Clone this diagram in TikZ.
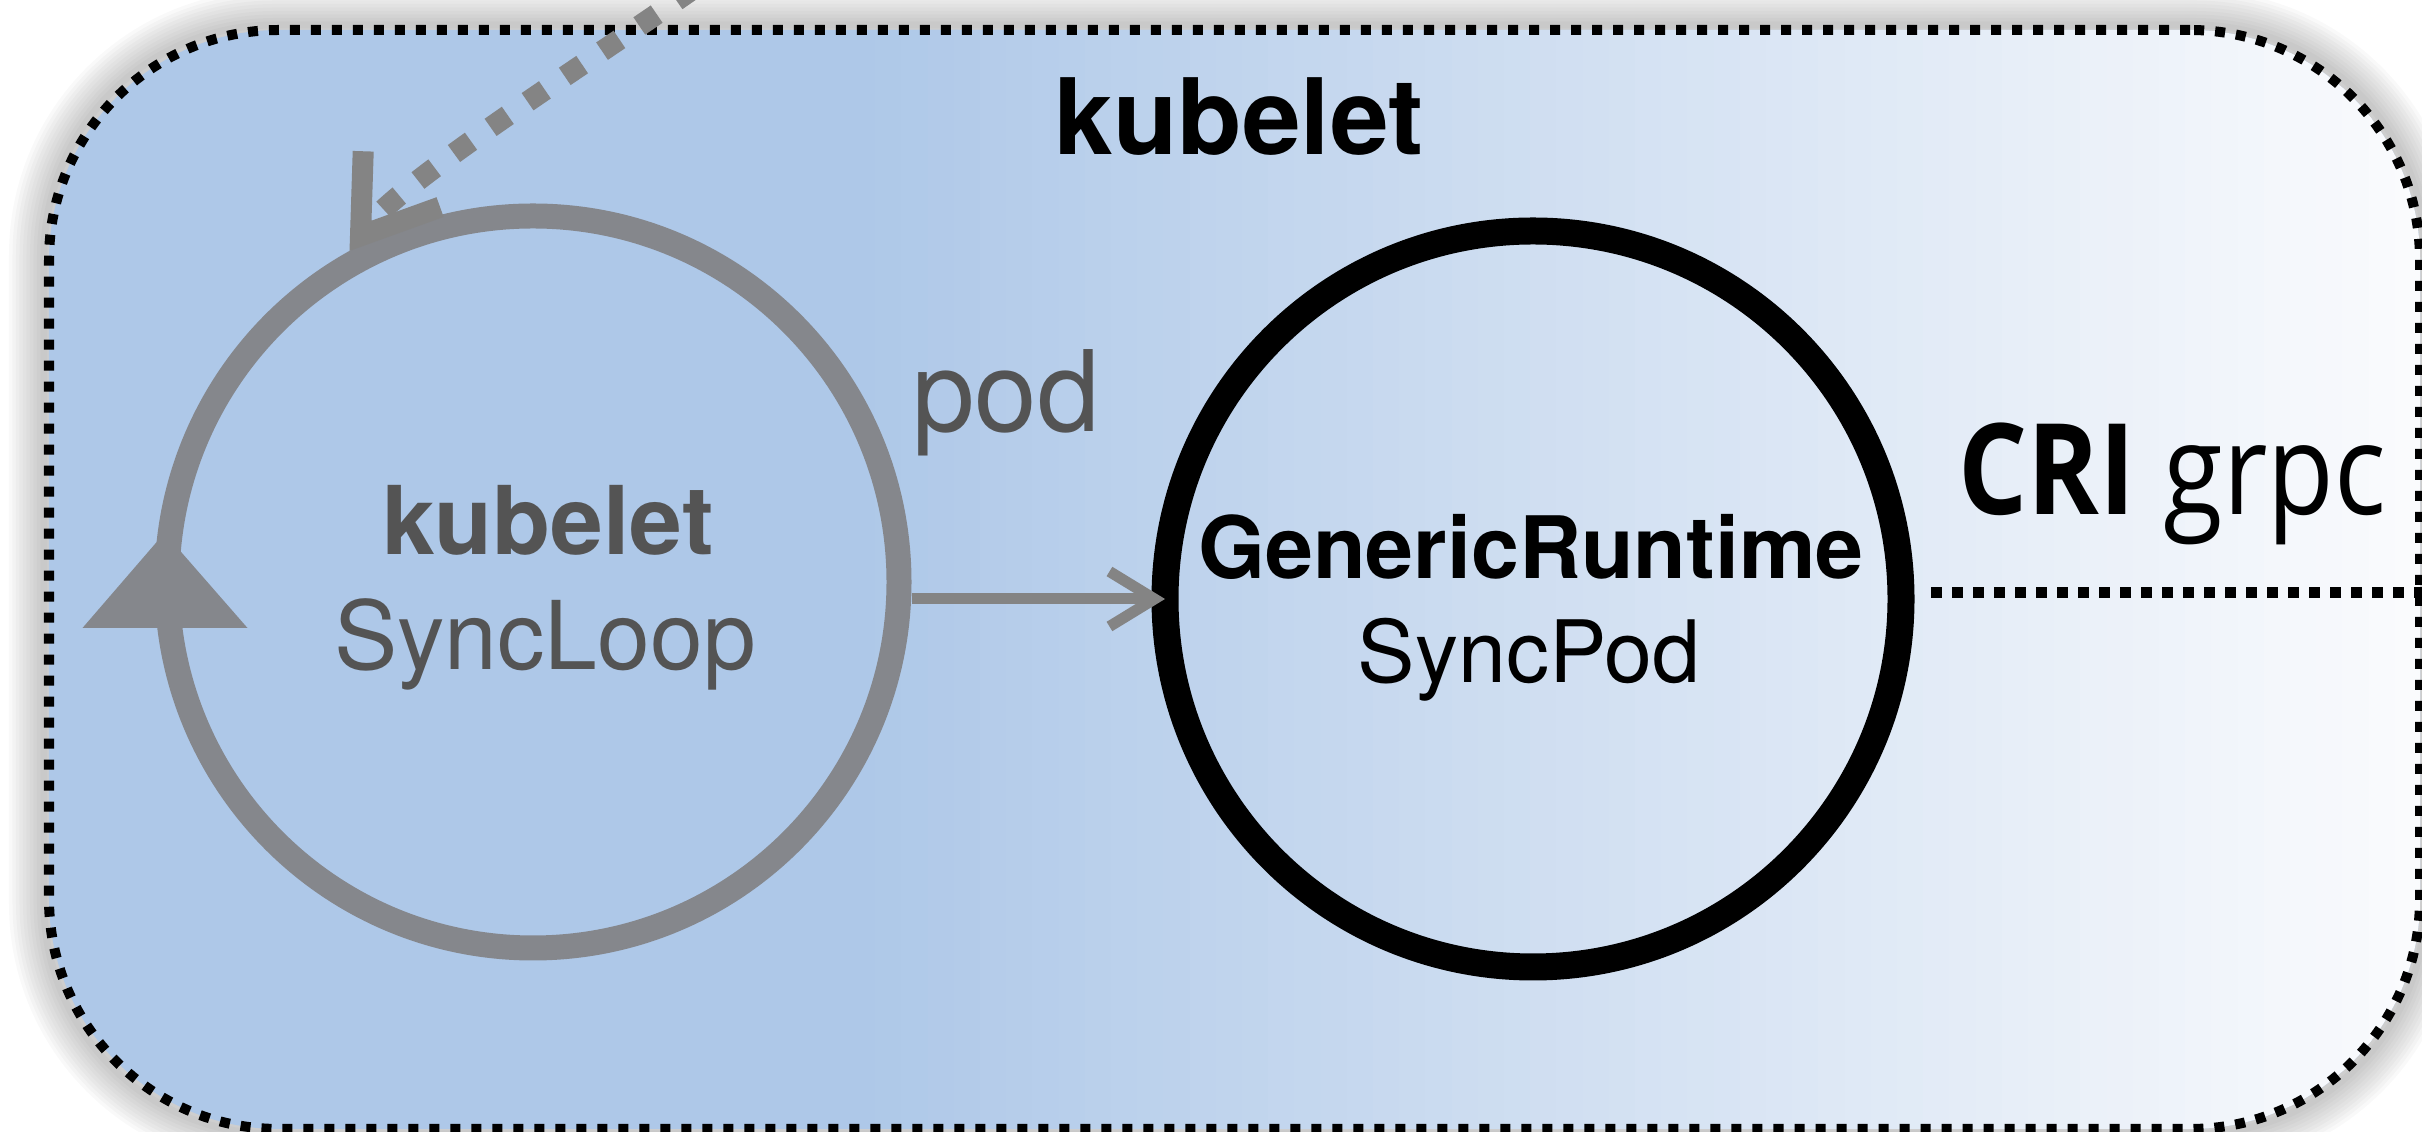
\documentclass[tikz,border=0pt]{standalone}
\usepackage{graphicx}
\usepackage{fontspec}
\setsansfont{TeX Gyre Heros}
\newfontfamily\crifont{Open Sans}
\usetikzlibrary{arrows.meta, positioning, backgrounds, calc}

\definecolor{boxblue}{RGB}{174,200,232}
\definecolor{boxwhite}{RGB}{250,251,253}
\definecolor{loopgray}{RGB}{133,135,140}
\definecolor{arrowgray}{RGB}{132,132,132}
\definecolor{textgray}{RGB}{84,84,84}

\begin{document}
\begin{tikzpicture}[
    frame/.style={draw, line width=0.1cm, dash pattern=on 0.1cm off 0.11cm, rounded corners=2.3cm, fill=boxblue, minimum width=23.71cm, minimum height=10.99cm, inner sep=0pt},
    loopcircle/.style={circle, draw=loopgray, line width=0.25cm, minimum size=7.32cm, inner sep=0pt, outer sep=0.125cm},
    synccircle/.style={circle, draw=black, line width=0.27cm, minimum size=7.36cm, inner sep=0pt, outer sep=0pt},
    title/.style={font=\sffamily\bfseries\fontsize{30}{36}\selectfont, anchor=base},
    loopname/.style={font=\sffamily\bfseries\fontsize{27}{32}\selectfont, text=textgray, anchor=base},
    looplight/.style={font=\sffamily\fontsize{27}{32}\selectfont, text=textgray, anchor=base},
    syncname/.style={font=\sffamily\bfseries\fontsize{24.5}{29}\selectfont, anchor=base},
    synclight/.style={font=\sffamily\fontsize{24.5}{29}\selectfont, anchor=base},
    podlabel/.style={font=\sffamily\fontsize{32}{38}\selectfont, text=textgray, anchor=base},
    crilabel/.style={font=\crifont\fontsize{36}{42}\selectfont, anchor=base},
    podarrow/.style={draw=arrowgray, line width=0.11cm, -{Straight Barb[length=0.45cm, width=0.55cm]}},
    watcharrow/.style={draw=arrowgray, line width=0.21cm, dash pattern=on 0.21cm off 0.24cm, -{Straight Barb[length=0.7cm, width=0.95cm]}},
    crilink/.style={draw, line width=0.11cm, dash pattern=on 0.11cm off 0.1cm}
]
\useasboundingbox (0,0) rectangle (24.22,11.32);

% Outer kubelet box, blue fading to white on the right
\node[frame, path picture={
    \foreach \k [evaluate=\k as \p using \k*100/59] in {0,...,59} {
        \fill[boxwhite!\p!boxblue, sharp corners] ([xshift=8cm+\k*0.262cm]path picture bounding box.south west) rectangle ++(0.3cm,11.2cm);
    }
}] (frame) at (12.345,5.525) {};
\node[title] (title) at (12.39,9.77) {kubelet};

% Soft shadow round the box
\begin{scope}[on background layer]
\foreach \i in {1,...,10} {
    \draw[black, opacity=0.025, line width=\i*0.7mm, rounded corners=2.3cm] (frame.south west) rectangle (frame.north east);
}
\end{scope}

% Circles
\node[loopcircle] (loop) at (5.33,5.50) {};
\node[synccircle] (sync) at (15.33,5.33) {};

\node[loopname] (loopname) at ([xshift=1.5mm, yshift=2.7mm]loop.center) {kubelet};
\node[looplight] (looptext) at ([xshift=1.2mm, yshift=-8.8mm]loop.center) {SyncLoop};
\node[syncname] (syncname) at ([xshift=-0.2mm, yshift=2mm]sync.center) {GenericRuntime};
\node[synclight] (synctext) at ([xshift=-0.4mm, yshift=-8.4mm]sync.center) {SyncPod};

% Loop direction mark
\fill[loopgray] ([xshift=1mm, yshift=4.9mm]loop.west) -- ++(-0.82,-0.95) -- ++(1.65,0) -- cycle;

% Arrows
\node[podlabel] (pod) at (10.06,7.0) {pod};
\draw[podarrow] (loop.east |- sync.west) -- (sync.west);

\coordinate (watch) at (7.3,11.7);
\draw[watcharrow] (watch) to[out=218, in=54, looseness=0.5] (loop.119);

% CRI
\node[crilabel] (cri) at (21.72,6.17) {\scalebox{0.86}[1]{\textbf{CRI} grpc}};
\draw[crilink] ([xshift=3mm, yshift=0.6mm]sync.east) -- ([yshift=0.6mm]sync.east -| frame.east);

\end{tikzpicture}
\end{document}
